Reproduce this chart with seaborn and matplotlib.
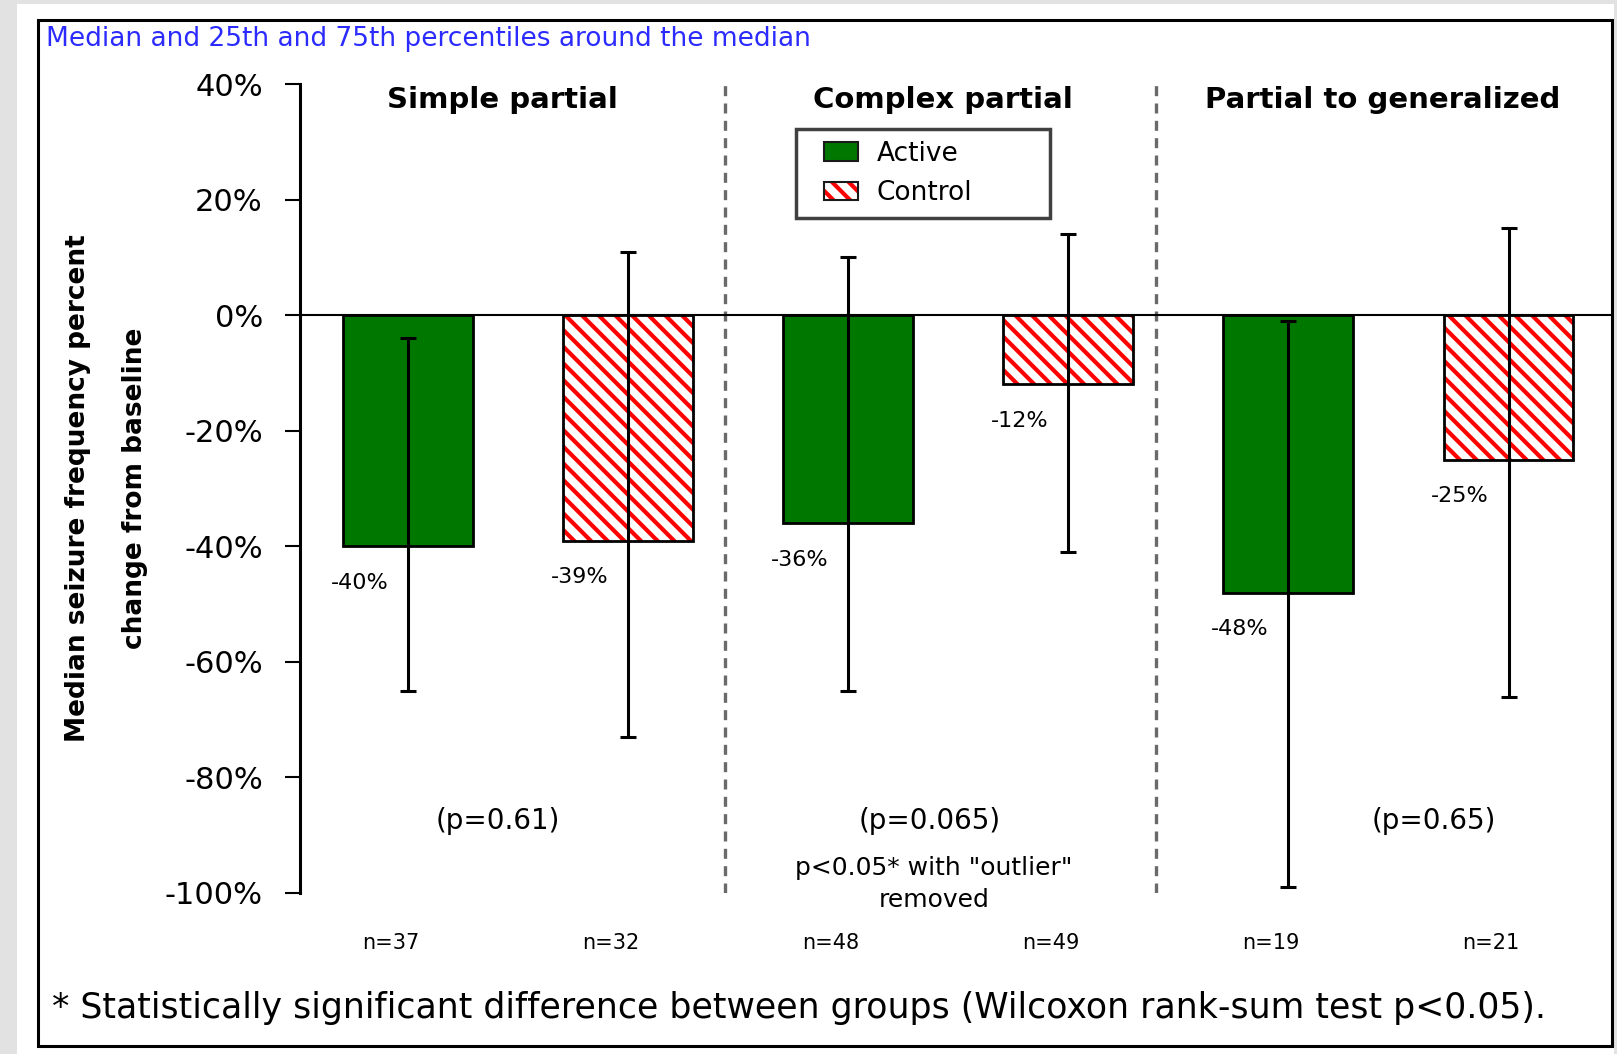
import matplotlib
matplotlib.use("Agg")
import numpy as np
import pandas as pd
import matplotlib.pyplot as plt
import seaborn as sns
from matplotlib.patches import Patch, Rectangle
from matplotlib.legend_handler import HandlerTuple, HandlerPatch

# --- data ---
groups = ["Simple partial", "Complex partial", "Partial to generalized"]
active_median = [-40, -36, -48]
control_median = [-39, -12, -25]
active_p25 = [-65, -65, -99]
active_p75 = [-4, 10, -1]
control_p25 = [-73, -41, -66]
control_p75 = [11, 14, 15]
active_n = [37, 48, 19]
control_n = [32, 49, 21]
p_labels = ["(p=0.61)", "(p=0.065)", "(p=0.65)"]
yticks = [40, 20, 0, -20, -40, -60, -80, -100]

rows = []
for i, g in enumerate(groups):
    rows.append(dict(group=g, arm="Active", median=active_median[i],
                     lo=active_p25[i], hi=active_p75[i], n=active_n[i]))
    rows.append(dict(group=g, arm="Control", median=control_median[i],
                     lo=control_p25[i], hi=control_p75[i], n=control_n[i]))
df = pd.DataFrame(rows)
df["bar"] = df["group"] + " - " + df["arm"]

GREEN = "#007800"
W, H = 1617, 1054

sns.set_theme(style="white")
plt.rcParams["font.family"] = ["DejaVu Sans"]
plt.rcParams["hatch.linewidth"] = 3.0
for key in ["text.color", "axes.labelcolor", "xtick.color", "ytick.color", "axes.edgecolor"]:
    plt.rcParams[key] = "black"

fig = plt.figure(figsize=(W / 100, H / 100), dpi=100)
fig.patch.set_facecolor("#e1e2e1")
fig.add_artist(Rectangle((17 / W, 0), (1614 - 17) / W, (H - 4) / H, transform=fig.transFigure,
                         facecolor="white", edgecolor="none", zorder=-10))
fig.add_artist(Rectangle((38 / W, 8 / H), 1574 / W, 1026 / H, transform=fig.transFigure,
                         fill=False, edgecolor="black", lw=2.2, zorder=10))

ax = fig.add_axes([300 / W, (H - 893) / H, 1312 / W, 809 / H])
ax.set_facecolor("none")

palette = [GREEN if a == "Active" else "white" for a in df["arm"]]
sns.barplot(data=df, x="bar", y="median", hue="bar", palette=palette, legend=False,
            width=0.59, edgecolor="black", linewidth=2, saturation=1, ax=ax)

# control bars: red diagonal hatch, black outline drawn on top
for patch in ax.patches:
    pos = int(round(patch.get_x() + patch.get_width() / 2))
    if df.loc[pos, "arm"] == "Control":
        patch.set_facecolor("white")
        patch.set_edgecolor("red")
        patch.set_linewidth(0)
        patch.set_hatch("\\\\")
ctrl = df[df["arm"] == "Control"]
ax.bar(ctrl.index, ctrl["median"], width=0.59, fill=False, edgecolor="black", linewidth=2, zorder=2.5)

# 25th / 75th percentile bars
ax.errorbar(df.index, df["median"], yerr=[df["median"] - df["lo"], df["hi"] - df["median"]],
            fmt="none", ecolor="black", elinewidth=2.2, capsize=6, capthick=2.2, zorder=3)

ax.axhline(0, color="black", lw=1.5, zorder=2.6)
ax.vlines([1.44, 3.40], -100, 40, colors="#6a6a6a", lw=2.4, linestyles=(0, (3.0, 2.2)))

ax.set_ylim(-100, 40)
ax.set_xlim(-0.49, 5.47)
ax.set_yticks(yticks)
ax.set_yticklabels([f"{v}%" for v in yticks])
ax.set_xticks([])
ax.set_xlabel("")
ax.set_ylabel("")
sns.despine(ax=ax, top=True, right=True, bottom=True)
ax.spines["left"].set_linewidth(2.2)
ax.tick_params(axis="y", direction="out", length=10.8, width=1.5, pad=16, labelsize=22, left=True)

# value labels under bars, sample sizes below the axis
for i, row in df.iterrows():
    ax.text(i - 0.22, row["median"] - 6.3, f"{row['median']}%", ha="center", va="center", fontsize=16)
    ax.text(i - 0.08, -108.7, f"n={row['n']}", ha="center", va="center", fontsize=15)

# group headings and p values
for k, g in enumerate(groups):
    ax.text(2 * k + 0.43, 37.2, g, ha="center", va="center", fontsize=21, fontweight="bold")
p_x = [0.41, 2.37, 4.66]
for k, lab in enumerate(p_labels):
    ax.text(p_x[k], -87.6, lab, ha="center", va="center", fontsize=20)
ax.text(2.39, -98.4, 'p<0.05* with "outlier"\nremoved', ha="center", va="center",
        fontsize=18, linespacing=1.4)

# legend
handles = [Patch(facecolor=GREEN, edgecolor="#1a1a1a", lw=1.5),
           (Patch(facecolor="white", edgecolor="red", hatch="\\\\", lw=0),
            Patch(fill=False, edgecolor="#1a1a1a", lw=1.5))]
leg = fig.legend(handles, ["Active", "Control"],
                 handler_map={tuple: HandlerTuple(ndivide=1, pad=0, xpad=0.6),
                              Patch: HandlerPatch(xpad=0.6)},
                 loc="upper left", bbox_to_anchor=(796 / W, 1 - 213 / H, 254 / W, 84 / H),
                 mode="expand", borderaxespad=0, fontsize=19, fancybox=False, framealpha=1,
                 edgecolor="#404040", handlelength=1.9, handleheight=0.7, handletextpad=0.7,
                 labelspacing=0.5, borderpad=0.45)
leg.get_frame().set_linewidth(2.5)

# titles and notes
fig.text(46 / W, 1 - 39 / H, "Median and 25th and 75th percentiles around the median",
         color="#2b2bff", fontsize=19, va="center", ha="left")
fig.text(106 / W, 1 - 488 / H, "Median seizure frequency percent\nchange from baseline",
         rotation=90, ha="center", va="center", fontweight="bold", fontsize=19, linespacing=2.55)
fig.text(52 / W, 1 - 1008 / H,
         "* Statistically significant difference between groups (Wilcoxon rank-sum test p<0.05).",
         fontsize=25, va="center", ha="left")

fig.savefig("out.png", dpi=100, facecolor=fig.get_facecolor())
